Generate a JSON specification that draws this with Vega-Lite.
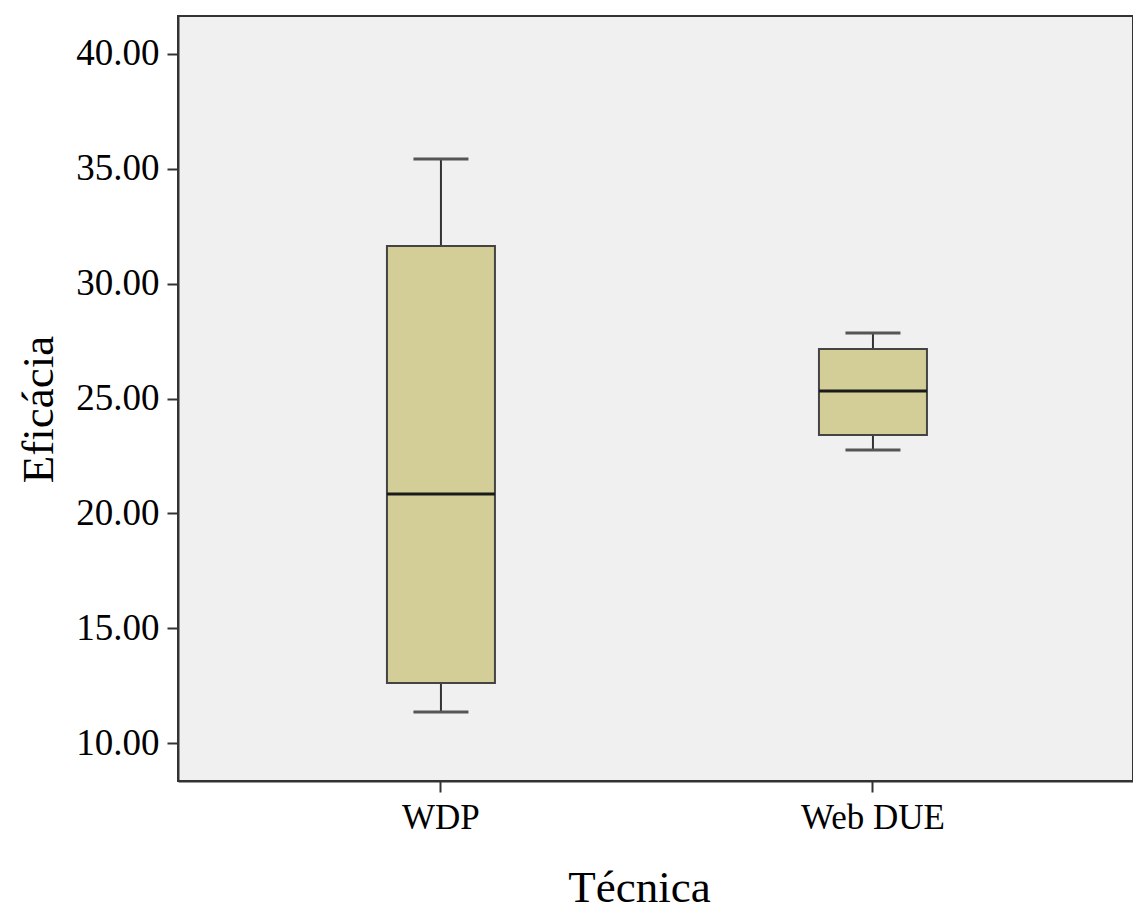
{
  "$schema": "https://vega.github.io/schema/vega-lite/v6.json",
  "autosize": {"type": "none"},
  "width": 955,
  "height": 765,
  "padding": {"left": 178, "top": 16, "right": 0, "bottom": 129},
  "background": "white",
  "data": {
    "values": [
      {"tecnica": "WDP", "min": 11.35, "q1": 12.62, "median": 20.84, "q3": 31.64, "max": 35.43},
      {"tecnica": "Web DUE", "min": 22.76, "q1": 23.41, "median": 25.33, "q3": 27.16, "max": 27.85}
    ]
  },
  "encoding": {
    "x": {
      "field": "tecnica",
      "type": "nominal",
      "sort": ["WDP", "Web DUE"],
      "scale": {"paddingInner": 0, "paddingOuter": 0.1053, "align": 0.516},
      "axis": {
        "title": "Técnica",
        "labelAngle": 0,
        "labelFont": "Liberation Serif",
        "labelFontSize": 35,
        "labelColor": "black",
        "labelPadding": 8,
        "tickSize": 11,
        "tickWidth": 2,
        "tickColor": "#333333",
        "domainColor": "#333333",
        "domainWidth": 2,
        "titleFont": "Liberation Serif",
        "titleFontSize": 45,
        "titleFontWeight": "normal",
        "titleColor": "black",
        "titlePadding": 30,
        "titleX": 461
      }
    }
  },
  "layer": [
    {
      "mark": {"type": "rule", "color": "#333333", "strokeWidth": 2},
      "encoding": {
        "y": {
          "field": "min",
          "type": "quantitative",
          "scale": {"domain": [8.35, 41.65], "nice": false, "zero": false},
          "axis": {
            "title": "Eficácia",
            "values": [10, 15, 20, 25, 30, 35, 40],
            "format": ".2f",
            "grid": false,
            "labelFont": "Liberation Serif",
            "labelFontSize": 37,
            "labelColor": "black",
            "labelPadding": 8,
            "tickSize": 11,
            "tickWidth": 2,
            "tickColor": "#333333",
            "domainColor": "#333333",
            "domainWidth": 2,
            "titleFont": "Liberation Serif",
            "titleFontSize": 45,
            "titleFontWeight": "normal",
            "titleColor": "black",
            "titlePadding": 14,
            "titleY": 393
          }
        },
        "y2": {"field": "max"}
      }
    },
    {
      "mark": {"type": "tick", "color": "#555555", "thickness": 3, "size": 55, "opacity": 1},
      "encoding": {"y": {"field": "min", "type": "quantitative"}}
    },
    {
      "mark": {"type": "tick", "color": "#555555", "thickness": 3, "size": 55, "opacity": 1},
      "encoding": {"y": {"field": "max", "type": "quantitative"}}
    },
    {
      "mark": {"type": "bar", "size": 108, "fill": "#D3CE97", "stroke": "#444444", "strokeWidth": 2},
      "encoding": {
        "y": {"field": "q1", "type": "quantitative"},
        "y2": {"field": "q3"}
      }
    },
    {
      "mark": {"type": "tick", "color": "#1a1a1a", "thickness": 3, "size": 108, "opacity": 1},
      "encoding": {"y": {"field": "median", "type": "quantitative"}}
    }
  ],
  "config": {
    "view": {"fill": "#F0F0F0", "stroke": "#333333", "strokeWidth": 2}
  }
}
